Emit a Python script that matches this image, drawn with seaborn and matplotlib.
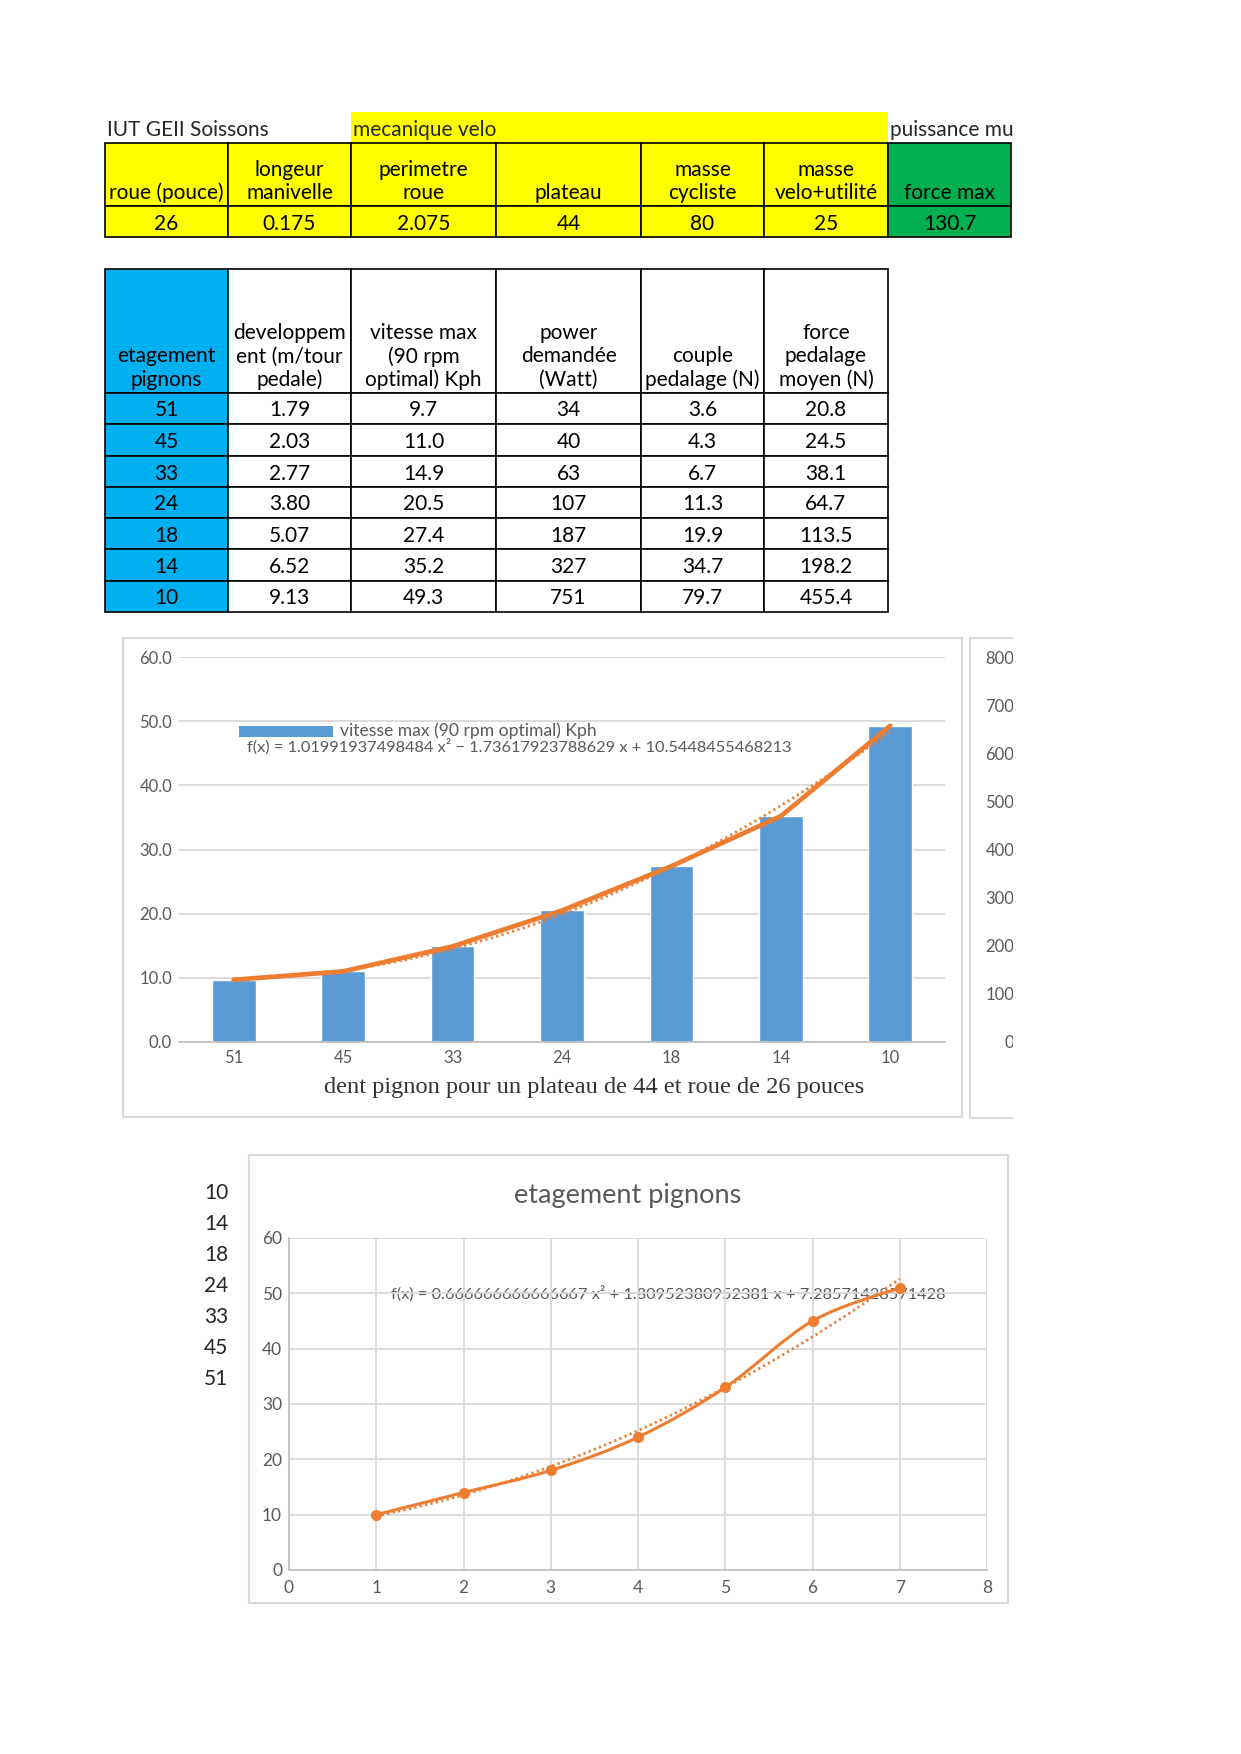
import numpy as np
import pandas as pd
import matplotlib
matplotlib.use("Agg")
import matplotlib.pyplot as plt
import seaborn as sns
from matplotlib.patches import Rectangle, PathPatch
from matplotlib.path import Path

# sheet data
param_headers = ["roue (pouce)", "longeur\nmanivelle", "perimetre\nroue", "plateau",
                 "masse\ncycliste", "masse\nvelo+utilité", "force max"]
param_values = ["26", "0.175", "2.075", "44", "80", "25", "130.7"]

gear_headers = ["etagement\npignons", "developpem\nent (m/tour\npedale)",
                "vitesse max\n(90 rpm\noptimal) Kph", "power\ndemandée\n(Watt)",
                "couple\npedalage (N)", "force\npedalage\nmoyen (N)"]
pignons = [51, 45, 33, 24, 18, 14, 10]
developpement = [1.79, 2.03, 2.77, 3.80, 5.07, 6.52, 9.13]
vitesse = [9.7, 11.0, 14.9, 20.5, 27.4, 35.2, 49.3]
power = [34, 40, 63, 107, 187, 327, 751]
couple = [3.6, 4.3, 6.7, 11.3, 19.9, 34.7, 79.7]
force_moy = [20.8, 24.5, 38.1, 64.7, 113.5, 198.2, 455.4]

vitesse_trend = [1.01991937498484, -1.73617923788629, 10.5448455468213]
vitesse_eq = "f(x) = 1.01991937498484 x² − 1.73617923788629 x + 10.5448455468213"
vitesse_label = "vitesse max (90 rpm optimal) Kph"
xlabel_1 = "dent pignon pour un plateau de 44 et roue de 26 pouces"

rang = [1, 2, 3, 4, 5, 6, 7]
etagement = [10, 14, 18, 24, 33, 45, 51]
etagement_trend = [0.666666666666667, 1.80952380952381, 7.28571428571428]
etagement_eq = "f(x) = 0.666666666666667 x² + 1.80952380952381 x + 7.28571428571428"

power_ticks = [0, 100, 200, 300, 400, 500, 600, 700, 800]

BLUE = "#5b9bd5"
ORANGE = "#ed7d31"
GRID = "#d9d9d9"
TXT = "#595959"
FONT = ["Lato", "DejaVu Sans"]
CELL_FS = 15

sns.set_theme(style="white")
plt.rcParams["font.family"] = FONT

W, H = 1241, 1754
fig = plt.figure(figsize=(W / 100, H / 100), dpi=100)
page = fig.add_axes([0, 0, 1, 1])
page.set_xlim(0, W)
page.set_ylim(H, 0)
page.axis("off")


def px_axes(x0, y0, x1, y1):
    ax = fig.add_axes([x0 / W, 1 - y1 / H, (x1 - x0) / W, (y1 - y0) / H])
    ax.set_facecolor("none")
    return ax


def cell(x0, x1, y0, y1, face, text=None, step=23.5, off=13):
    page.add_patch(Rectangle((x0, y0), x1 - x0, y1 - y0, facecolor=face,
                             edgecolor="black", lw=1.2, zorder=2))
    if text is None:
        return
    for i, line in enumerate(reversed(text.split("\n"))):
        page.text((x0 + x1) / 2, y1 - off - i * step, line, ha="center", va="center",
                  fontsize=CELL_FS, color="black", zorder=3)


# table 1: parameters
cols = [105, 228, 351, 496, 641, 764, 888, 1011]
page.add_patch(Rectangle((351, 112), 888 - 351, 31, facecolor="#ffff00", lw=0))
page.text(107, 130, "IUT GEII Soissons", fontsize=CELL_FS, va="center")
page.text(353, 130, "mecanique velo", fontsize=CELL_FS, va="center")
page.text(890, 130, "puissance musculaire", fontsize=CELL_FS, va="center")
for i, (hd, val) in enumerate(zip(param_headers, param_values)):
    face = "#00b050" if i == len(param_headers) - 1 else "#ffff00"
    cell(cols[i], cols[i + 1], 143, 206, face, hd)
    cell(cols[i], cols[i + 1], 206, 237, face, val, off=13.5)

# table 2: gears
rows_y = [269, 393, 424, 456, 487, 518, 549, 581, 612]
for j, hd in enumerate(gear_headers):
    cell(cols[j], cols[j + 1], rows_y[0], rows_y[1], "#00b0f0" if j == 0 else "white", hd)
table = pd.DataFrame({
    "pignon": [str(p) for p in pignons],
    "dev": [f"{v:.2f}" for v in developpement],
    "vit": [f"{v:.1f}" for v in vitesse],
    "pow": [str(v) for v in power],
    "cpl": [f"{v:.1f}" for v in couple],
    "frc": [f"{v:.1f}" for v in force_moy],
})
for r, row in enumerate(table.itertuples(index=False)):
    y0, y1 = rows_y[r + 1], rows_y[r + 2]
    for j, val in enumerate(row):
        cell(cols[j], cols[j + 1], y0, y1, "#00b0f0" if j == 0 else "white", val,
             off=(y1 - y0) / 2 - 2)

# chart frames
for x0, y0, x1, y1 in [(123, 638, 962, 1117), (970, 638, 1120, 1118), (249, 1155, 1008, 1603)]:
    page.add_patch(Rectangle((x0, y0), x1 - x0, y1 - y0, facecolor="none",
                             edgecolor=GRID, lw=1.5))

# chart 1: speed per sprocket
ax1 = px_axes(179, 657, 945, 1042)
pos = np.arange(len(pignons))
sns.barplot(x=pos, y=vitesse, native_scale=True, width=0.4, color=BLUE,
            saturation=1, ax=ax1, zorder=2)
sns.lineplot(x=pos, y=vitesse, color=ORANGE, lw=3.4, ax=ax1, zorder=4)
xs = np.linspace(1, len(pignons), 200)
sns.lineplot(x=xs - 1, y=np.polyval(vitesse_trend, xs), color=ORANGE, lw=2,
             linestyle=(0, (0.8, 1.2)), ax=ax1, zorder=3)
ax1.set_xlim(-0.5, len(pignons) - 0.5)
ax1.set_ylim(0, 60)
ax1.set_yticks(np.arange(0, 61, 10))
ax1.set_yticklabels([f"{t:.1f}" for t in np.arange(0, 61, 10)])
ax1.set_xticks(pos, [str(p) for p in pignons])
ax1.yaxis.grid(True, color=GRID, lw=1.3, zorder=0)
ax1.set_axisbelow(True)
for s in ["top", "right", "left"]:
    ax1.spines[s].set_visible(False)
ax1.spines["bottom"].set_color("#bfbfbf")
ax1.tick_params(axis="both", length=0, labelsize=12, labelcolor=TXT)
ax1.tick_params(axis="y", pad=5)
ax1.tick_params(axis="x", pad=6)
ax1.set_xlabel("")
ax1.set_ylabel("")
page.add_patch(Rectangle((239, 726), 94, 11, facecolor=BLUE, lw=0))
page.text(340, 731, vitesse_label, fontsize=12.6, color=TXT, va="center")
page.text(247, 747, vitesse_eq, fontsize=11.8, color=TXT, va="center")
page.text(594, 1088, xlabel_1, fontsize=17.6, color="#333333", ha="center", va="center",
          family=["Liberation Serif", "DejaVu Serif"])

# chart 2 (cut at the print edge): power axis only
ax2 = px_axes(1020, 657, 1120, 1042)
ax2.set_ylim(0, 800)
ax2.set_yticks(power_ticks)
ax2.set_xticks([])
for s in ax2.spines.values():
    s.set_visible(False)
ax2.tick_params(axis="y", length=0, labelsize=12, labelcolor=TXT, pad=4)

# chart 3: etagement pignons
for k, v in enumerate(etagement):
    page.text(204, 1193 + k * 31.0, str(v), fontsize=CELL_FS, va="center")
ax3 = px_axes(289, 1238, 987, 1570)
pts = np.column_stack([rang, etagement]).astype(float)
ext = np.vstack([pts[0], pts, pts[-1]])
verts = [pts[0]]
codes = [Path.MOVETO]
for i in range(len(pts) - 1):
    p0, p1, p2, p3 = ext[i], ext[i + 1], ext[i + 2], ext[i + 3]
    verts += [p1 + (p2 - p0) / 6, p2 - (p3 - p1) / 6, p2]
    codes += [Path.CURVE4] * 3
ax3.add_patch(PathPatch(Path(verts, codes), fill=False, edgecolor=ORANGE, lw=2.2, zorder=4))
sns.scatterplot(x=rang, y=etagement, color=ORANGE, s=55, edgecolor=ORANGE, ax=ax3, zorder=5)
xs3 = np.linspace(rang[0], rang[-1], 200)
sns.lineplot(x=xs3, y=np.polyval(etagement_trend, xs3), color=ORANGE, lw=2,
             linestyle=(0, (0.8, 1.2)), ax=ax3, zorder=3)
ax3.set_xlim(0, 8)
ax3.set_ylim(0, 60)
ax3.set_xticks(range(0, 9))
ax3.set_yticks(range(0, 61, 10))
ax3.grid(True, color=GRID, lw=1.3, zorder=0)
ax3.set_axisbelow(True)
for s in ["top", "right"]:
    ax3.spines[s].set_visible(False)
for s in ["left", "bottom"]:
    ax3.spines[s].set_color("#bfbfbf")
ax3.tick_params(axis="both", length=0, labelsize=12.5, labelcolor=TXT)
ax3.tick_params(axis="y", pad=5)
ax3.tick_params(axis="x", pad=7)
page.text(628, 1195, "etagement pignons", fontsize=19.5, color=TXT, ha="center", va="center")
page.text(391, 1294, etagement_eq, fontsize=11.8, color=TXT, va="center", zorder=6)

# print area ends on the right
fig.add_artist(Rectangle((1013 / W, 0), 1 - 1013 / W, 1, transform=fig.transFigure,
                         facecolor="white", edgecolor="none", zorder=20))

fig.savefig("out.png", dpi=100)
